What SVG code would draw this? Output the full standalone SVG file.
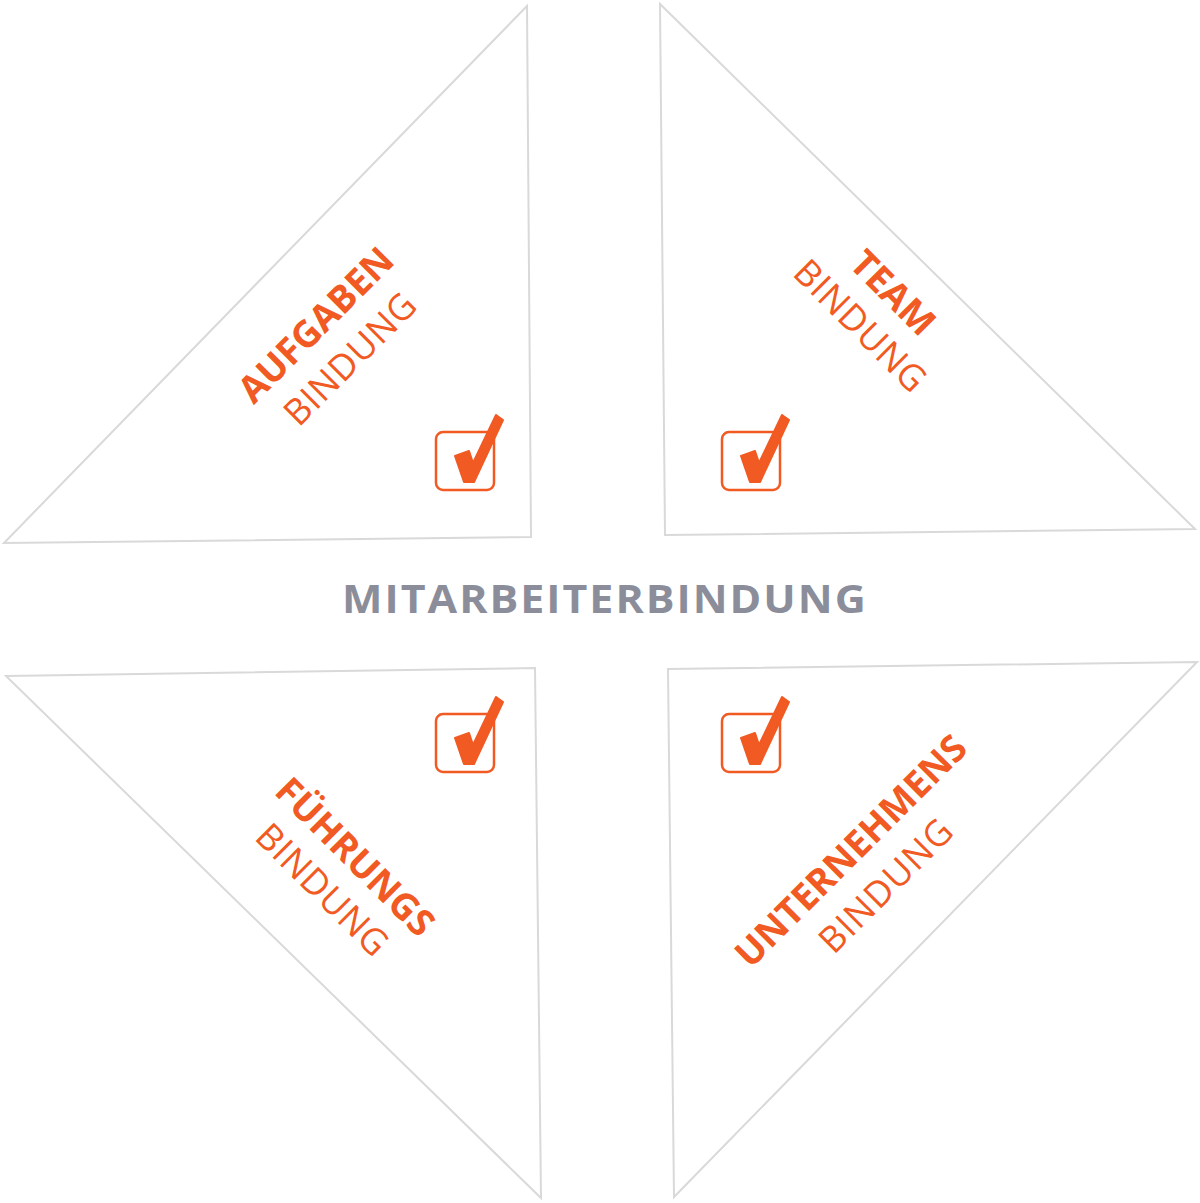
<svg xmlns="http://www.w3.org/2000/svg" xmlns:xlink="http://www.w3.org/1999/xlink" width="1200" height="1203" viewBox="0 0 1200 1203">
<style>
.tri{fill:#ffffff;stroke:#d9d9d9;stroke-width:2;stroke-linejoin:miter}
.b{font-family:"Open Sans","Liberation Sans",sans-serif;font-weight:700;font-size:37px;fill:#f15a22;text-anchor:middle}
.l{font-family:"Open Sans","Liberation Sans",sans-serif;font-weight:400;font-size:36px;fill:#f15a22;text-anchor:middle}
.main{font-family:"Open Sans","Liberation Sans",sans-serif;font-weight:700;font-size:39px;fill:#8b8e9a}
.box{fill:#ffffff;stroke:#f15a22;stroke-width:2.5}
.chk{fill:#f15a22;stroke:#f15a22;stroke-width:2;stroke-linejoin:round}
</style>
<defs>
<g id="checkbox">
<rect class="box" x="0" y="0" width="58" height="58" rx="7"/>
<path class="chk" d="M19,24 L33,19 L37,31 L60,-17 L67,-12 L38,50 L28,50 Z"/>
</g>
</defs>
<rect width="1200" height="1203" fill="#ffffff"/>
<g id="aufgaben">
<polygon class="tri" points="527,6 4,543 531,537"/>
<use xlink:href="#checkbox" x="436" y="432"/>
<g transform="translate(325,334) rotate(-45)">
<text class="b" x="0" y="0">AUFGABEN</text>
<text class="l" x="0" y="48" textLength="170" lengthAdjust="spacing">BINDUNG</text>
</g>
</g>
<g id="team">
<polygon class="tri" points="660,4 665,535 1195,529"/>
<use xlink:href="#checkbox" x="722" y="432"/>
<g transform="translate(884,302) rotate(45)">
<text class="b" x="0" y="0">TEAM</text>
<text class="l" x="0" y="46" textLength="170" lengthAdjust="spacing">BINDUNG</text>
</g>
</g>
<g id="fuehrung">
<polygon class="tri" points="6,676 535,668 541,1198"/>
<use xlink:href="#checkbox" x="436" y="714"/>
<g transform="translate(346,866) rotate(45)">
<text class="b" x="0" y="0">FÜHRUNGS</text>
<text class="l" x="0" y="46" textLength="170" lengthAdjust="spacing">BINDUNG</text>
</g>
</g>
<g id="unternehmen">
<polygon class="tri" points="668,669 1197,662 674,1197"/>
<use xlink:href="#checkbox" x="722" y="714"/>
<g transform="translate(860,860) rotate(-45)">
<text class="b" x="0" y="0">UNTERNEHMENS</text>
<text class="l" x="0" y="49" textLength="172" lengthAdjust="spacing">BINDUNG</text>
</g>
</g>
<g id="center" transform="scale(1.1,1)">
<text class="main" x="311" y="613" textLength="476" lengthAdjust="spacing">MITARBEITERBINDUNG</text>
</g>
<g id="connectors"></g>
</svg>
